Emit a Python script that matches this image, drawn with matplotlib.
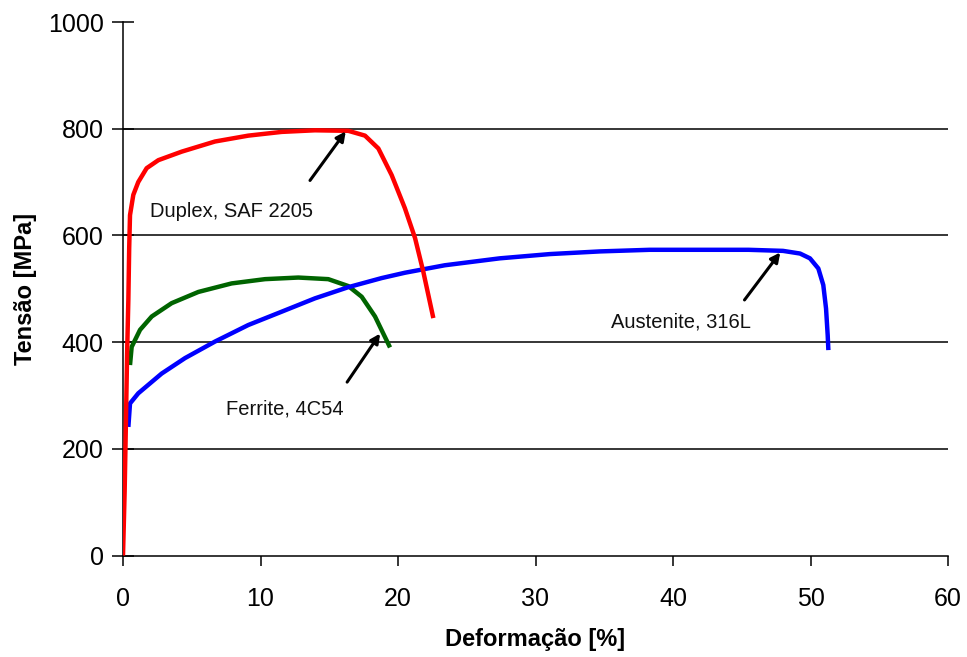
import matplotlib
matplotlib.use("Agg")
import matplotlib.pyplot as plt

plt.rcParams['font.family'] = ['Liberation Sans', 'DejaVu Sans']

# Duplex, SAF 2205
duplex_x = [0.0, 0.12, 0.22, 0.3, 0.39, 0.45, 0.51, 0.75, 1.11, 1.72, 2.57, 4.27, 6.69,
            9.11, 11.54, 13.96, 16.39, 17.6, 18.57, 19.54, 20.5, 21.24, 21.84, 22.57]
duplex_y = [0, 120, 260, 380, 480, 576, 638, 676, 700, 726, 741, 757, 776,
            787, 794, 797, 796, 787, 763, 713, 651, 595, 532, 445]

# Ferrite, 4C54
ferrite_x = [0.51, 0.63, 1.24, 2.09, 3.54, 5.48, 7.9, 10.33, 12.75, 14.93, 16.39,
             17.36, 18.33, 18.93, 19.42]
ferrite_y = [357, 391, 423, 448, 473, 494, 510, 518, 521, 518, 505,
             485, 448, 416, 390]

# Austenite, 316L
aust_x = [0.39, 0.51, 1.11, 2.81, 4.51, 6.69, 9.11, 11.54, 13.96, 16.39, 18.81,
          20.5, 23.4, 27.4, 31.05, 34.7, 38.3, 41.96, 45.5, 48.0, 49.24, 49.96,
          50.57, 50.93, 51.13, 51.25, 51.3]
aust_y = [241, 285, 304, 341, 370, 401, 432, 457, 482, 503, 520,
          530, 544, 557, 565, 570, 573, 573, 573, 571, 566, 557,
          538, 507, 463, 413, 385]

labels = ["Duplex, SAF 2205", "Ferrite, 4C54", "Austenite, 316L"]
label_pos = [(1.96, 644), (7.49, 275), (35.5, 438)]
arrow_start = [(13.6, 703), (16.3, 325), (45.2, 479)]
arrow_end = [(16.2, 795), (18.7, 416), (47.8, 568)]

x_ticks = [0, 10, 20, 30, 40, 50, 60]
y_ticks = [0, 200, 400, 600, 800, 1000]
grid_levels = [200, 400, 600, 800]

fig = plt.figure(figsize=(9.67, 6.57), dpi=100)
ax = fig.add_axes([123/967, 1 - 555.5/657, (948 - 123)/967, (555.5 - 22)/657])

for g in grid_levels:
    ax.axhline(g, color='black', lw=1.1, zorder=1)

style = dict(lw=3.2, solid_capstyle='butt', solid_joinstyle='round')
ax.plot(ferrite_x, ferrite_y, color='#006400', zorder=3, **style)
ax.plot(aust_x, aust_y, color='#0000FF', zorder=4, **style)
ax.plot(duplex_x, duplex_y, color='#FF0000', zorder=5, **style)

for (lx, ly), txt in zip(label_pos, labels):
    ax.text(lx, ly, txt, fontsize=14.5, color='#111111', ha='left', va='center', zorder=6)

for s, e in zip(arrow_start, arrow_end):
    ax.annotate('', xy=e, xytext=s,
                arrowprops=dict(arrowstyle='-|>', color='black', lw=2.2,
                                mutation_scale=14, shrinkA=0, shrinkB=0),
                zorder=7)

ax.set_xlim(0, 60)
ax.set_ylim(0, 1000)
ax.set_xticks(x_ticks)
ax.set_yticks(y_ticks)
ax.tick_params(axis='x', direction='out', length=7, width=1.1, pad=16, labelsize=18)
ax.tick_params(axis='y', direction='inout', length=16, width=1.1, pad=6, labelsize=18)

for side in ['top', 'right']:
    ax.spines[side].set_visible(False)
for side in ['left', 'bottom']:
    ax.spines[side].set_linewidth(1.1)

ax.set_xlabel('Deformação [%]', fontsize=17, fontweight='bold', labelpad=12)
ax.set_ylabel('Tensão [MPa]', fontsize=17, fontweight='bold', labelpad=8)

fig.savefig('out.png', dpi=100)
